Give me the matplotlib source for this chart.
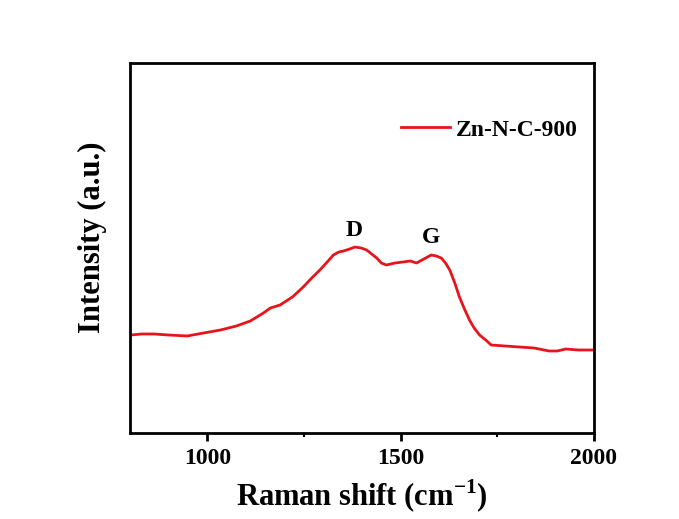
import numpy as np
import matplotlib.pyplot as plt
from matplotlib.ticker import MultipleLocator

plt.rcParams['font.family'] = ['Liberation Serif', 'DejaVu Serif']
plt.rcParams['font.weight'] = 'bold'
plt.rcParams['mathtext.fontset'] = 'custom'
plt.rcParams['mathtext.rm'] = 'Liberation Serif:bold'
plt.rcParams['mathtext.bf'] = 'Liberation Serif:bold'

# Raman spectrum (intensity in arbitrary units)
shift = [802, 830, 862, 900, 948, 990, 1034, 1075, 1111, 1128, 1145, 1163, 1188,
         1220, 1248, 1270, 1291, 1310, 1326, 1340, 1352, 1368, 1382, 1398, 1412,
         1425, 1438, 1450, 1463, 1485, 1506, 1525, 1541, 1560, 1579, 1592, 1605,
         1616, 1627, 1640, 1652, 1665, 1678, 1690, 1704, 1720, 1734, 1770, 1807,
         1845, 1884, 1905, 1927, 1960, 1996]
intensity = [98, 99, 99, 98, 97, 100, 103, 107, 112, 116, 120, 125, 128,
             136, 146, 155, 163, 171, 178, 181, 182, 184, 186, 185, 183,
             179, 175, 170, 168, 170, 171, 172, 170, 174, 178, 177, 175,
             170, 163, 150, 136, 124, 113, 105, 98, 93, 88, 87, 86,
             85, 82, 82, 84, 83, 83]

fig = plt.figure(figsize=(6.79, 5.19), dpi=100)
ax = fig.add_axes([0.1915, 0.1657, 0.6833, 0.7129])

ax.plot(shift, intensity, color='#e8141b', lw=2, label='Zn-N-C-900')

ax.set_xlim(800, 2000)
ax.set_ylim(0, 370)
ax.xaxis.set_major_locator(MultipleLocator(500))
ax.xaxis.set_minor_locator(MultipleLocator(250))
ax.set_yticks([])
ax.tick_params(axis='x', which='major', direction='out', length=6, width=2,
               labelsize=17, pad=5)
ax.tick_params(axis='x', which='minor', direction='out', length=3, width=1.5)
for s in ax.spines.values():
    s.set_linewidth(2)

ax.set_xlabel('Raman shift (cm$^{\\mathrm{-1}}$)', fontsize=22, fontweight='bold', labelpad=6)
ax.set_ylabel('Intensity (a.u.)', fontsize=22, fontweight='bold')
ax.yaxis.set_label_coords(-0.05, 0.53)

ax.text(1380, 192, 'D', ha='center', va='bottom', fontsize=17, fontweight='bold')
ax.text(1578, 185, 'G', ha='center', va='bottom', fontsize=17, fontweight='bold')

leg = ax.legend(loc='center right', frameon=False, fontsize=17, handlelength=2.1,
                handletextpad=0.25, borderaxespad=0, bbox_to_anchor=(0.986, 0.819))

fig.savefig('out.png', dpi=100)
